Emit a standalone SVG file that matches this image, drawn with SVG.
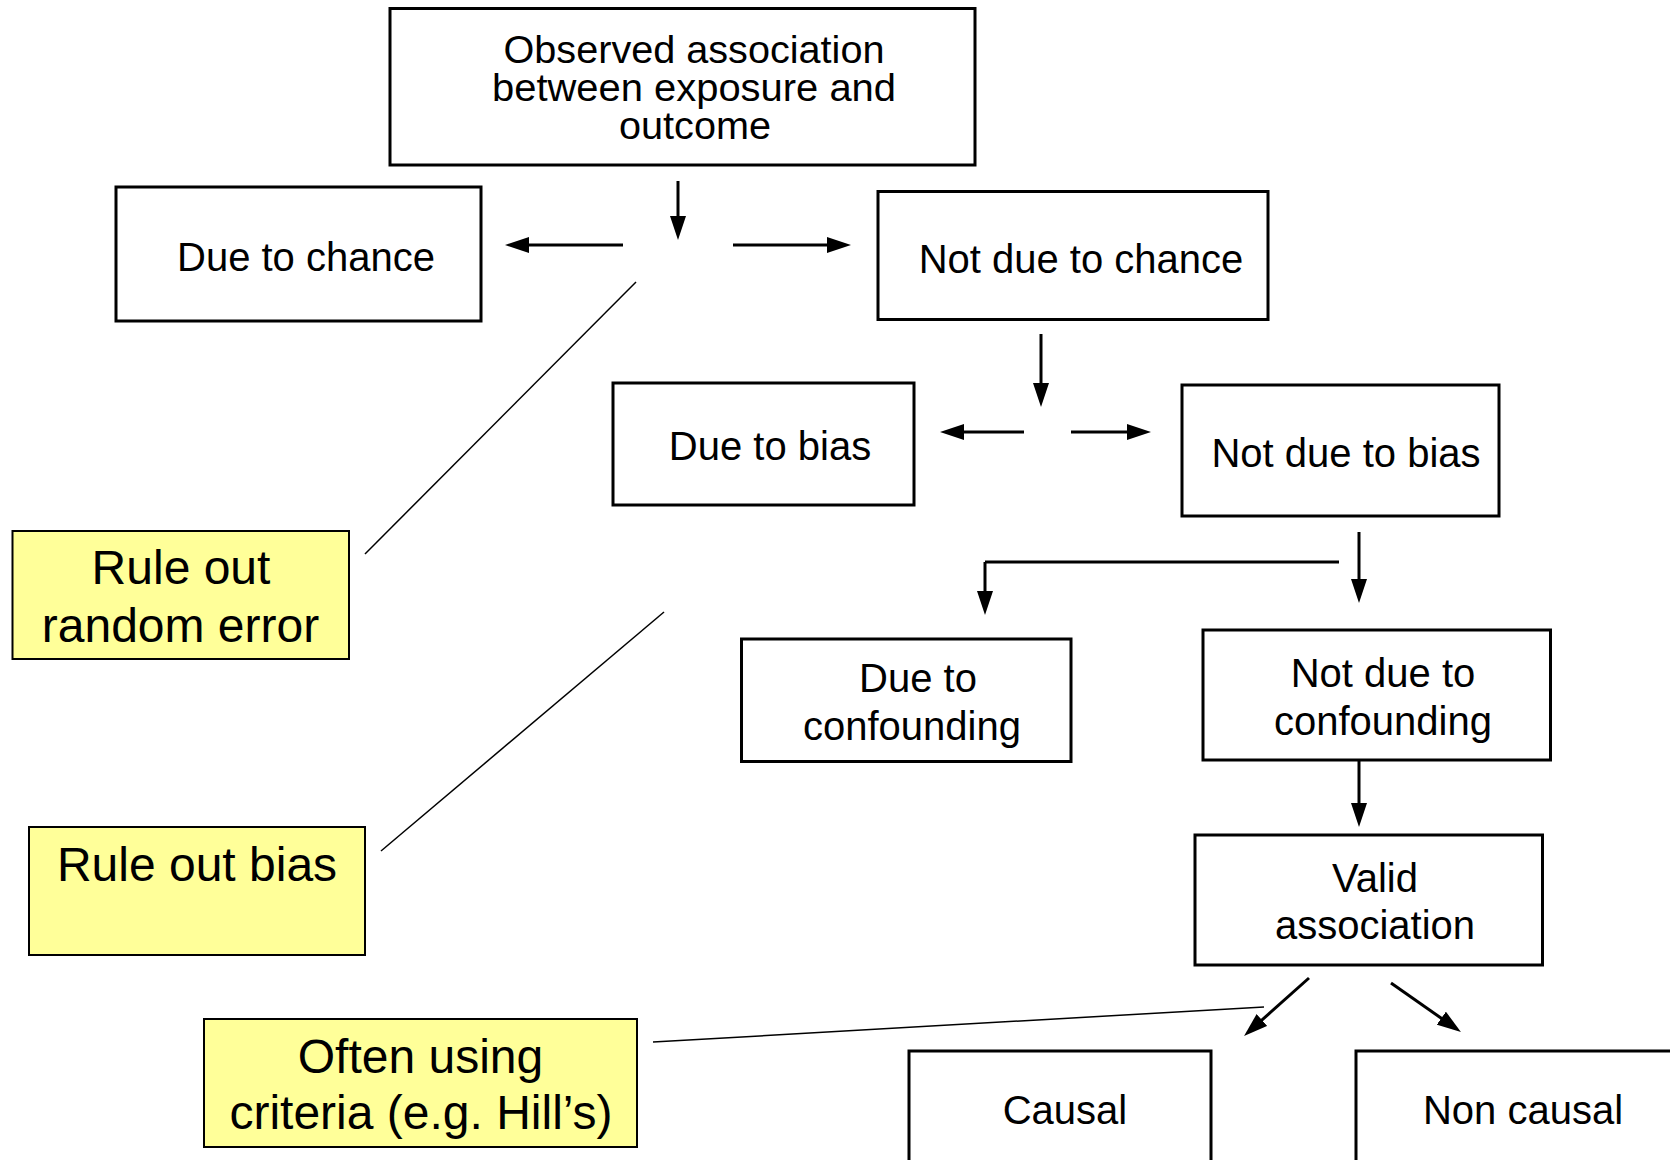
<svg xmlns="http://www.w3.org/2000/svg" width="1670" height="1160" viewBox="0 0 1670 1160">
<defs>
<style>
.box{fill:#fff;stroke:#000;stroke-width:3}
.note{fill:#FFFF99;stroke:#000;stroke-width:2}
.t{font-family:"Liberation Sans",Arial,sans-serif;font-size:40px;fill:#000;text-anchor:middle}
.tn{font-size:48px}
.arrow{stroke:#000;stroke-width:3;fill:none;marker-end:url(#ah)}
.thin{stroke:#000;stroke-width:1.5;fill:none}
</style>
<marker id="ah" markerUnits="userSpaceOnUse" markerWidth="24" markerHeight="16" refX="16" refY="8" orient="auto">
<path d="M0,0 L24,8 L0,16 z" fill="#000"/>
</marker>
</defs>
<rect width="1670" height="1160" fill="#fff"/>
<g id="observed">
<rect class="box" x="390" y="8.5" width="585" height="156.5"/>
<text class="t" x="694" y="63" style="font-size:38px" textLength="381" lengthAdjust="spacingAndGlyphs">Observed association</text>
<text class="t" x="694" y="101" style="font-size:38px" textLength="404" lengthAdjust="spacingAndGlyphs">between exposure and</text>
<text class="t" x="695" y="139" style="font-size:38px" textLength="152" lengthAdjust="spacingAndGlyphs">outcome</text>
</g>
<g id="due-chance">
<rect class="box" x="116" y="187" width="365" height="134"/>
<text class="t" x="306" y="271">Due to chance</text>
</g>
<g id="not-due-chance">
<rect class="box" x="878" y="191.5" width="390" height="128"/>
<text class="t" x="1081" y="273">Not due to chance</text>
</g>
<g id="due-bias">
<rect class="box" x="613" y="383" width="301" height="122"/>
<text class="t" x="770" y="460">Due to bias</text>
</g>
<g id="not-due-bias">
<rect class="box" x="1182" y="385" width="317" height="131"/>
<text class="t" x="1346" y="467">Not due to bias</text>
</g>
<g id="due-confounding">
<rect class="box" x="741.5" y="639" width="329.5" height="122.5"/>
<text class="t" x="918" y="692">Due to</text>
<text class="t" x="912" y="740">confounding</text>
</g>
<g id="not-due-confounding">
<rect class="box" x="1203" y="630" width="347.5" height="130"/>
<text class="t" x="1383" y="687">Not due to</text>
<text class="t" x="1383" y="735">confounding</text>
</g>
<g id="valid">
<rect class="box" x="1195" y="835" width="347.5" height="130"/>
<text class="t" x="1375" y="892">Valid</text>
<text class="t" x="1375" y="939">association</text>
</g>
<g id="causal">
<rect class="box" x="909" y="1051" width="302" height="130"/>
<text class="t" x="1065" y="1124">Causal</text>
</g>
<g id="non-causal">
<rect class="box" x="1356" y="1051" width="340" height="130"/>
<text class="t" x="1523" y="1124">Non causal</text>
</g>
<g id="rule-random">
<rect class="note" x="12.5" y="531" width="336.5" height="128"/>
<text class="t tn" x="181" y="584">Rule out</text>
<text class="t tn" x="180.5" y="642">random error</text>
</g>
<g id="rule-bias">
<rect class="note" x="29" y="827" width="336" height="128"/>
<text class="t tn" x="197" y="881">Rule out bias</text>
</g>
<g id="often-using">
<rect class="note" x="204" y="1019" width="433" height="128"/>
<text class="t tn" x="420.5" y="1073">Often using</text>
<text class="t tn" x="421" y="1129">criteria (e.g. Hill’s)</text>
</g>
<g id="connectors">
<line class="arrow" x1="678" y1="181" x2="678" y2="232"/>
<line class="arrow" x1="623" y1="245" x2="513" y2="245"/>
<line class="arrow" x1="733" y1="245" x2="843" y2="245"/>
<line class="arrow" x1="1041" y1="334" x2="1041" y2="399"/>
<line class="arrow" x1="1024" y1="432" x2="948" y2="432"/>
<line class="arrow" x1="1071" y1="432" x2="1143" y2="432"/>
<line class="arrow" x1="1359" y1="532" x2="1359" y2="595"/>
<polyline class="thin" points="1339,562 985,562" style="stroke-width:3"/>
<line class="arrow" x1="985" y1="562" x2="985" y2="607"/>
<line class="arrow" x1="1359" y1="760" x2="1359" y2="819"/>
<line class="arrow" x1="1309" y1="978" x2="1250" y2="1030.7"/>
<line class="arrow" x1="1391" y1="983" x2="1454.4" y2="1027.4"/>
<line class="thin" x1="636" y1="282" x2="365" y2="554"/>
<line class="thin" x1="664" y1="612" x2="381" y2="851"/>
<line class="thin" x1="653" y1="1042" x2="1264" y2="1007"/>
</g>
</svg>
